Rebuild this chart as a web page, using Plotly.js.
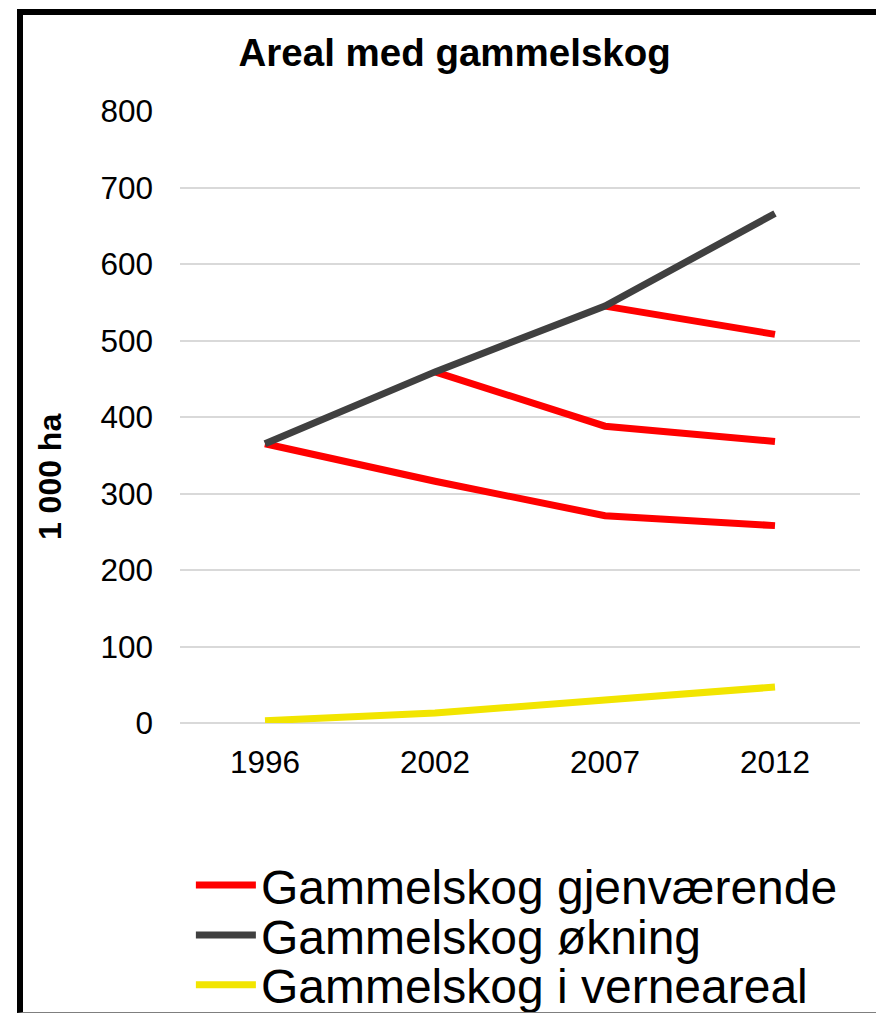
<!DOCTYPE html>
<html>
<head>
<meta charset="utf-8">
<script src="https://cdn.plot.ly/plotly-3.0.1.min.js"></script>
<style>
  html, body { margin: 0; padding: 0; background: #fff; }
  #wrap { position: relative; width: 876px; height: 1013px; overflow: hidden; }
  #chart { position: absolute; left: 0; top: 0; width: 876px; height: 1013px; }
  #frame { position: absolute; left: 17px; top: 9px; width: 853px; height: 997px;
           border-left: 6px solid #000; border-top: 6px solid #000; border-bottom: 1px solid #7f7f7f;
           pointer-events: none; }
</style>
</head>
<body>
<div id="wrap"><div id="chart"></div><div id="frame"></div></div>
<script>
const years = ['1996', '2002', '2007', '2012'];
const gjenvaerendeFra1996 = [365, 316, 271, 258];
const gjenvaerendeFra2002 = [null, 459, 388, 368];
const gjenvaerendeFra2007 = [null, null, 545, 508];
const okning = [365, 459, 545, 666];
const verneareal = [3, 13, 30, 47];
const yTicks = [0, 100, 200, 300, 400, 500, 600, 700, 800];

const RED = '#ff0000', DARK = '#404040', YEL = '#f2e500';
const FONT = 'Liberation Sans, Arial, sans-serif';
const LW = 7;

const traces = [
  {x: years, y: gjenvaerendeFra1996, name: 'Gammelskog gjenværende', mode: 'lines',
   line: {color: RED, width: LW}, legend: 'legend', showlegend: true},
  {x: years, y: gjenvaerendeFra2002, name: 'Gammelskog gjenværende', mode: 'lines',
   line: {color: RED, width: LW}, legend: 'legend', showlegend: false, connectgaps: false},
  {x: years, y: gjenvaerendeFra2007, name: 'Gammelskog gjenværende', mode: 'lines',
   line: {color: RED, width: LW}, legend: 'legend', showlegend: false, connectgaps: false},
  {x: years, y: okning, name: 'Gammelskog økning', mode: 'lines',
   line: {color: DARK, width: LW}, legend: 'legend2'},
  {x: years, y: verneareal, name: 'Gammelskog i verneareal', mode: 'lines',
   line: {color: YEL, width: LW}, legend: 'legend3'}
];

const legendBase = (yPos) => ({
  x: 0.016, xanchor: 'left', y: yPos, yanchor: 'middle', itemwidth: 60,
  font: {family: FONT, size: 48, color: '#000'},
  bgcolor: 'rgba(0,0,0,0)', borderwidth: 0, orientation: 'v'
});

const layout = {
  width: 876, height: 1013,
  margin: {l: 180, r: 16, t: 111, b: 290, autoexpand: false},
  paper_bgcolor: '#fff', plot_bgcolor: '#fff',
  font: {family: FONT, color: '#000'},
  title: {text: 'Areal med gammelskog', font: {family: FONT, size: 38.5, weight: 'bold', color: '#000'},
          xref: 'container', x: 0.519, xanchor: 'center', yref: 'container', y: 0.948, yanchor: 'middle'},
  xaxis: {type: 'category', range: [-0.5, 3.5], showgrid: false, zeroline: false, showline: false,
          ticks: '', tickfont: {family: FONT, size: 31.5, color: '#000'}, ticklabelstandoff: 17},
  yaxis: {range: [0, 800], tickvals: yTicks, showgrid: true, gridcolor: '#d9d9d9', gridwidth: 2,
          zeroline: true, zerolinecolor: '#d9d9d9', zerolinewidth: 2, showline: false, ticks: '',
          tickfont: {family: FONT, size: 31.5, color: '#000'}, ticklabelstandoff: 26},
  annotations: [{text: '1 000 ha', textangle: -90, showarrow: false,
                 xref: 'paper', x: -0.191, xanchor: 'center', yref: 'paper', y: 0.402, yanchor: 'middle',
                 font: {family: FONT, size: 32, weight: 'bold', color: '#000'}}],
  legend: legendBase(-0.265),
  legend2: legendBase(-0.347),
  legend3: legendBase(-0.428),
  showlegend: true
};

Plotly.newPlot('chart', traces, layout, {staticPlot: true, displayModeBar: false});
</script>
</body>
</html>
